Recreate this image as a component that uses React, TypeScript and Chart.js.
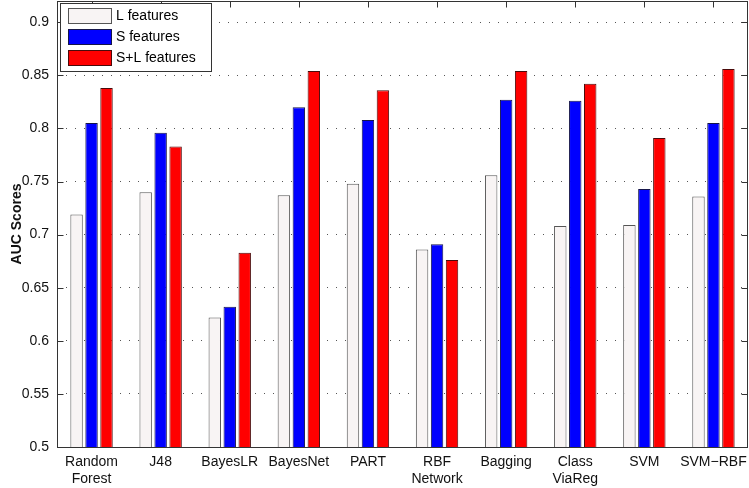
import React, { useEffect, useRef } from "react";
import { Chart, registerables } from "chart.js";

Chart.register(...registerables);

const categories: (string | string[])[] = [
  ["Random", "Forest"],
  "J48",
  "BayesLR",
  "BayesNet",
  "PART",
  ["RBF", "Network"],
  "Bagging",
  ["Class", "ViaReg"],
  "SVM",
  "SVM\u2212RBF",
];

const lFeatures = [0.719, 0.74, 0.622, 0.737, 0.748, 0.686, 0.756, 0.708, 0.709, 0.736];
const sFeatures = [0.805, 0.796, 0.632, 0.82, 0.808, 0.691, 0.827, 0.826, 0.743, 0.805];
const slFeatures = [0.838, 0.783, 0.683, 0.854, 0.836, 0.676, 0.854, 0.842, 0.791, 0.856];

const seriesLabels = ["L features", "S features", "S+L features"];
const yTicks = [0.5, 0.55, 0.6, 0.65, 0.7, 0.75, 0.8, 0.85, 0.9];
const yTickLabels = ["0.5", "0.55", "0.6", "0.65", "0.7", "0.75", "0.8", "0.85", "0.9"];
const yMin = 0.5;
const yMax = 0.92;

const FONT = '"Liberation Sans", Arial, Helvetica, sans-serif';

const framePlugin = {
  id: "frame",
  beforeDatasetsDraw(chart: any) {
    const { ctx, chartArea } = chart;
    const x = chart.scales.x;
    ctx.save();
    ctx.strokeStyle = "#333";
    ctx.lineWidth = 1;
    ctx.beginPath();
    for (let i = 0; i < categories.length; i++) {
      const px = Math.round(x.getPixelForValue(i)) + 0.5;
      ctx.moveTo(px, chartArea.bottom);
      ctx.lineTo(px, chartArea.bottom - 6);
    }
    ctx.stroke();
    ctx.restore();
  },
  afterDatasetsDraw(chart: any) {
    const { ctx, chartArea } = chart;
    const x = chart.scales.x;
    const y = chart.scales.y;
    const L = Math.round(chartArea.left) + 0.5;
    const R = Math.round(chartArea.right) - 0.5;
    const T = Math.round(chartArea.top) + 0.5;
    const B = Math.round(chartArea.bottom) + 0.5;
    ctx.save();
    ctx.strokeStyle = "#333";
    ctx.lineWidth = 1;
    ctx.beginPath();
    for (let i = 0; i < categories.length; i++) {
      const px = Math.round(x.getPixelForValue(i)) + 0.5;
      ctx.moveTo(px, T);
      ctx.lineTo(px, T + 6);
    }
    for (const v of yTicks) {
      const py = Math.round(y.getPixelForValue(v)) + 0.5;
      ctx.moveTo(L, py);
      ctx.lineTo(L + 6, py);
      ctx.moveTo(R, py);
      ctx.lineTo(R - 6, py);
    }
    ctx.stroke();
    ctx.strokeRect(L, T, R - L, B - T);

    // legend
    const lx = 60.5, ly = 3.5, lw = 151, lh = 68;
    ctx.fillStyle = "#ffffff";
    ctx.fillRect(lx, ly, lw, lh);
    ctx.strokeStyle = "#333";
    ctx.strokeRect(lx, ly, lw, lh);
    ctx.font = `14px ${FONT}`;
    ctx.textBaseline = "middle";
    ctx.textAlign = "left";
    chart.data.datasets.forEach((ds: any, i: number) => {
      const sy = 8.5 + i * 21;
      ctx.fillStyle = ds.backgroundColor;
      ctx.fillRect(68.5, sy, 43, 15);
      ctx.strokeStyle = ds.borderColor;
      ctx.strokeRect(68.5, sy, 43, 15);
      ctx.fillStyle = "#000";
      ctx.fillText(ds.label, 116, sy + 8);
    });
    ctx.restore();
  },
};

export default function App() {
  const ref = useRef<HTMLCanvasElement | null>(null);
  useEffect(() => {
    if (!ref.current) return;
    const chart = new Chart(ref.current, {
      type: "bar",
      data: {
        labels: categories as any,
        datasets: [
          { label: seriesLabels[0], data: lFeatures, backgroundColor: "#f8f4f4", borderColor: "#555555", borderWidth: 1 },
          { label: seriesLabels[1], data: sFeatures, backgroundColor: "#0000ff", borderColor: "#15154a", borderWidth: 1 },
          { label: seriesLabels[2], data: slFeatures, backgroundColor: "#ff0000", borderColor: "#4a0a0a", borderWidth: 1 },
        ],
      },
      options: {
        responsive: false,
        animation: false,
        devicePixelRatio: 1,
        layout: { padding: { top: 1, right: 1, left: 0, bottom: 0 } },
        datasets: { bar: { categoryPercentage: 0.65, barPercentage: 0.83, borderSkipped: false } },
        plugins: { legend: { display: false }, tooltip: { enabled: false }, title: { display: false } },
        scales: {
          x: {
            grid: { display: false, drawTicks: false },
            border: { display: false },
            ticks: { color: "#111", font: { family: FONT, size: 14 }, padding: 7, maxRotation: 0, autoSkip: false },
            afterFit: (s: any) => {
              s.height = 41;
              s.paddingLeft = 0;
              s.paddingRight = 0;
            },
          },
          y: {
            min: yMin,
            max: yMax,
            afterBuildTicks: (s: any) => { s.ticks = yTicks.map((v) => ({ value: v })); },
            grid: { color: "#555", lineWidth: 1, drawTicks: false },
            border: { display: false, dash: [1, 8] },
            ticks: {
              color: "#111",
              font: { family: FONT, size: 14 },
              padding: 8,
              callback: (v: any) => {
                const i = yTicks.findIndex((t) => Math.abs(t - Number(v)) < 1e-9);
                return i >= 0 ? yTickLabels[i] : "";
              },
            },
            title: { display: true, text: "AUC Scores", color: "#111", font: { family: FONT, size: 14, weight: "bold" }, padding: { top: 9, bottom: 0 } },
            afterFit: (s: any) => {
              s.width = 57;
              s.paddingTop = 0;
              s.paddingBottom = 0;
            },
          },
        },
      },
      plugins: [framePlugin],
    } as any);
    return () => chart.destroy();
  }, []);
  return (
    <div style={{ position: "fixed", left: 0, top: 0, width: 749, height: 488, background: "#fff" }}>
      <canvas ref={ref} width={749} height={488} style={{ display: "block" }} />
    </div>
  );
}
